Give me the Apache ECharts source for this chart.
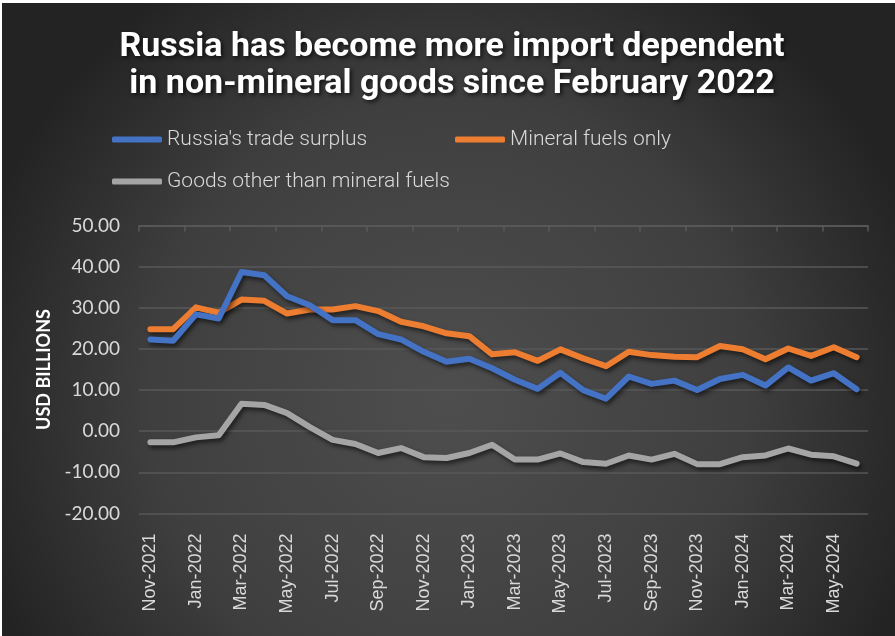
<!DOCTYPE html>
<html>
<head>
<meta charset="utf-8">
<script src="https://cdn.jsdelivr.net/npm/echarts@6/dist/echarts.min.js"></script>
<style>
html,body{margin:0;padding:0;background:#ffffff;}
#chart{position:absolute;left:2px;top:3px;width:893px;height:633px;}
</style>
</head>
<body>
<div id="chart"></div>
<script>
const categories = ["Nov-2021","Dec-2021","Jan-2022","Feb-2022","Mar-2022","Apr-2022","May-2022","Jun-2022","Jul-2022","Aug-2022","Sep-2022","Oct-2022","Nov-2022","Dec-2022","Jan-2023","Feb-2023","Mar-2023","Apr-2023","May-2023","Jun-2023","Jul-2023","Aug-2023","Sep-2023","Oct-2023","Nov-2023","Dec-2023","Jan-2024","Feb-2024","Mar-2024","Apr-2024","May-2024","Jun-2024"];
const tradeSurplus = [22.3,22.0,28.4,27.4,38.7,37.9,32.8,30.6,27.0,27.0,23.6,22.3,19.3,16.9,17.6,15.3,12.5,10.3,14.2,10.0,7.9,13.3,11.5,12.3,10.0,12.7,13.7,11.1,15.5,12.3,14.1,10.2];
const mineralFuels = [24.8,24.8,30.1,28.8,32.0,31.7,28.6,29.6,29.6,30.4,29.2,26.6,25.5,23.8,23.1,18.7,19.2,17.1,19.9,17.7,15.8,19.3,18.5,18.1,18.0,20.7,19.9,17.5,20.1,18.3,20.4,18.0];
const otherGoods = [-2.7,-2.7,-1.5,-1.0,6.7,6.4,4.4,1.0,-2.1,-3.1,-5.3,-4.1,-6.3,-6.5,-5.3,-3.3,-6.9,-6.9,-5.4,-7.5,-7.9,-5.9,-6.9,-5.5,-8.0,-8.0,-6.3,-5.9,-4.2,-5.7,-6.1,-7.9];
const seriesNames = ["Russia's trade surplus","Mineral fuels only","Goods other than mineral fuels"];
const seriesColors = ["#4472C4","#ED7D31","#A5A5A5"];
const titleText = "Russia has become more import dependent\nin non-mineral goods since February 2022";

const chart = echarts.init(document.getElementById('chart'));
const legendText = {color:'#d9d9d9',fontFamily:'Roboto',fontWeight:300,fontSize:21};
const legendBase = {icon:'roundRect',itemWidth:50,itemHeight:6,itemGap:0,textStyle:legendText,padding:0,selectedMode:false};
function lineSeries(i, data){
  return {
    name: seriesNames[i], type:'line', data:data, xAxisIndex:0, yAxisIndex:0,
    symbol:'none', smooth:false,
    lineStyle:{color:seriesColors[i],width:6,cap:'round',join:'round',shadowColor:'rgba(0,0,0,0.55)',shadowBlur:4,shadowOffsetX:2,shadowOffsetY:3},
    itemStyle:{color:seriesColors[i]},
    z: 3 - i
  };
}
chart.setOption({
  backgroundColor:{type:'radial',x:0.5,y:0.62,r:0.78,colorStops:[{offset:0,color:'#4e4e4e'},{offset:0.6,color:'#3f3f3f'},{offset:1,color:'#232323'}]},
  animation:false,
  title:{
    text:titleText, left:445, top:21, textAlign:'center',
    textStyle:{color:'#ffffff',fontFamily:'Roboto',fontWeight:'bold',fontSize:34,lineHeight:37,
      textShadowColor:'rgba(0,0,0,0.7)',textShadowBlur:4,textShadowOffsetX:2,textShadowOffsetY:2}
  },
  legend:[
    Object.assign({data:[seriesNames[0]],left:110,top:126},legendBase),
    Object.assign({data:[seriesNames[1]],left:453,top:126},legendBase),
    Object.assign({data:[seriesNames[2]],left:110,top:168},legendBase)
  ],
  grid:{left:137,right:27,top:222.5,bottom:122.5,containLabel:false},
  xAxis:[
    {type:'category',data:categories,position:'bottom',boundaryGap:true,
      axisLine:{show:false},axisTick:{show:false},splitLine:{show:false},
      axisLabel:{interval:1,rotate:90,color:'#d9d9d9',fontFamily:'Liberation Sans',fontSize:18,margin:20}},
    {type:'category',data:categories,position:'top',boundaryGap:true,
      axisLine:{show:true,onZero:true,lineStyle:{color:'#595959',width:1.5}},
      axisTick:{show:true,inside:true,interval:1,length:6,lineStyle:{color:'#595959',width:1.5}},
      axisLabel:{show:false},splitLine:{show:false}}
  ],
  yAxis:{type:'value',min:-20,max:50,interval:10,
    name:'USD BILLIONS',nameLocation:'middle',nameGap:76,nameRotate:90,
    nameTextStyle:{color:'#ffffff',fontFamily:'Lato',fontWeight:'bold',fontSize:18},
    axisLine:{show:false},axisTick:{show:false},
    axisLabel:{color:'#d9d9d9',fontFamily:'Lato',fontSize:19,margin:19,formatter:function(v){return v.toFixed(2);}},
    splitLine:{show:true,lineStyle:{color:'#595959',width:1.5}}
  },
  series:[lineSeries(0,tradeSurplus),lineSeries(1,mineralFuels),lineSeries(2,otherGoods)]
});
</script>
</body>
</html>
